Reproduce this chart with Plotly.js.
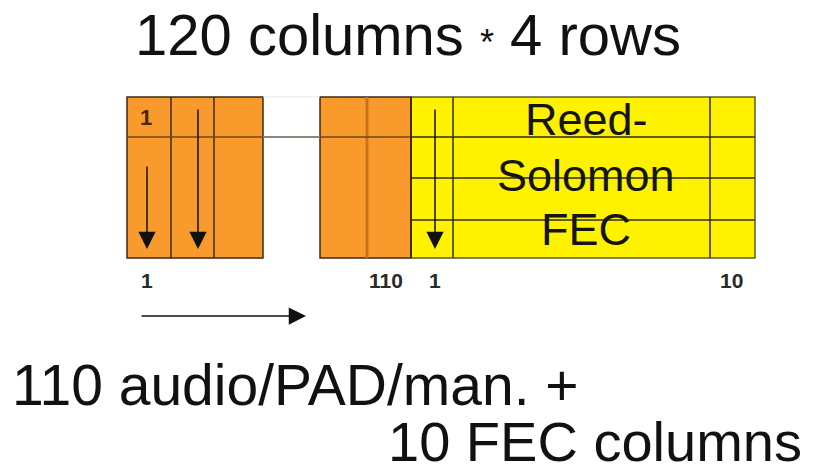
<!DOCTYPE html>
<html>
<head>
<meta charset="utf-8">
<script src="https://cdn.plot.ly/plotly-3.0.1.min.js"></script>
<style>html,body{margin:0;padding:0;background:#fff;}#chart{width:829px;height:473px;}</style>
</head>
<body>
<div id="chart"></div>
<script>
// ---- diagram data (frame of 120 columns x 4 rows) ----
const rowEdges = [97, 137, 178, 220, 258];            // 4 rows
const audioLeftEdges = [127, 171, 214, 263];          // columns 1..3
const gapEdges = [263, 320];                          // omitted columns
const audioRightEdges = [320, 367, 411];              // columns 109..110
const fecEdges = [411, 453, 710, 755];                // FEC columns 1 .. 10
const fecText = ['Reed-', 'Solomon', 'FEC'];
const fecTextY = [119, 175, 229];
const colLabels = ['1', '110', '1', '10'];
const colLabelX = [147, 386, 435, 731];
const downArrowX = [147, 198, 435];
const downArrowFrom = [165, 108, 108];
const titleText = '120 columns <span style="font-size:36px">*</span> 4 rows';
const footText = ['110 audio/PAD/man. +', '10 FEC columns'];

const ORANGE = '#F99B2C', YELLOW = '#FFF200', DARK = '#3b2a12';
const FONT = 'Liberation Sans, Arial, sans-serif';

const shapes = [];
const yTop = rowEdges[0], yBot = rowEdges[rowEdges.length - 1];
function rect(x0, x1, fill, lc, lw) {
  shapes.push({type: 'rect', xref: 'x', yref: 'y', x0, x1, y0: yTop, y1: yBot,
    fillcolor: fill, line: {color: lc, width: lw}, layer: 'below'});
}
function vline(x, color, w) {
  shapes.push({type: 'line', xref: 'x', yref: 'y', x0: x, x1: x, y0: yTop, y1: yBot, line: {color, width: w}});
}
function hline(x0, x1, y, color, w) {
  shapes.push({type: 'line', xref: 'x', yref: 'y', x0, x1, y0: y, y1: y, line: {color, width: w}});
}
// audio blocks
rect(audioLeftEdges[0], audioLeftEdges[audioLeftEdges.length - 1], ORANGE, DARK, 1.5);
rect(audioRightEdges[0], audioRightEdges[audioRightEdges.length - 1], ORANGE, DARK, 1.5);
audioLeftEdges.slice(1, -1).forEach(x => vline(x, DARK, 1.5));
audioRightEdges.slice(1, -1).forEach(x => vline(x, '#C8741C', 3));
hline(audioLeftEdges[0], audioRightEdges[audioRightEdges.length - 1], rowEdges[1], '#6b4a1a', 1.5);
// gap faint lines
hline(gapEdges[0], gapEdges[1], rowEdges[1], '#8a8a8a', 1.5);
hline(gapEdges[0], gapEdges[1], yTop, '#e2e6ea', 1);
// FEC block
rect(fecEdges[0], fecEdges[fecEdges.length - 1], YELLOW, '#5e5a2a', 1.5);
rowEdges.slice(1, -1).forEach(y => hline(fecEdges[0], fecEdges[fecEdges.length - 1], y, '#2e2e1a', 1.5));
fecEdges.slice(1, -1).forEach(x => vline(x, '#2e2e1a', 1.5));
vline(fecEdges[0], DARK, 2);

const ann = [];
// down arrows
downArrowX.forEach((x, i) => ann.push({x, y: 249, ax: x, ay: downArrowFrom[i], axref: 'x', ayref: 'y',
  xref: 'x', yref: 'y', text: '', showarrow: true, arrowhead: 2, arrowsize: 2.3, arrowwidth: 1.5, arrowcolor: '#111', standoff: 0}));
// horizontal arrow
ann.push({x: 306, y: 316, ax: 140, ay: 316, axref: 'x', ayref: 'y', xref: 'x', yref: 'y', text: '',
  showarrow: true, arrowhead: 2, arrowsize: 2.3, arrowwidth: 1.5, arrowcolor: '#111', standoff: 0});
// cell "1"
ann.push({x: 146, y: 117, xref: 'x', yref: 'y', text: '<b>1</b>', showarrow: false,
  font: {family: FONT, size: 22, color: '#4a2800'}});
// column labels
colLabels.forEach((t, i) => ann.push({x: colLabelX[i], y: 280, xref: 'x', yref: 'y', text: '<b>' + t + '</b>',
  showarrow: false, font: {family: FONT, size: 21, color: '#2a2a2a'}}));
// FEC text
fecText.forEach((t, i) => ann.push({x: 586, y: fecTextY[i], xref: 'x', yref: 'y', text: t, showarrow: false,
  font: {family: FONT, size: 45, color: '#151515'}}));
// title & footer
ann.push({x: 133, y: 34, xref: 'x', yref: 'y', xanchor: 'left', text: titleText, showarrow: false,
  font: {family: FONT, size: 58, color: '#111'}});
ann.push({x: 10, y: 385, xref: 'x', yref: 'y', xanchor: 'left', text: footText[0], showarrow: false,
  font: {family: FONT, size: 57, color: '#111'}});
ann.push({x: 386, y: 441, xref: 'x', yref: 'y', xanchor: 'left', text: footText[1], showarrow: false,
  font: {family: FONT, size: 56, color: '#111'}});

const layout = {
  width: 829, height: 473,
  margin: {l: 0, r: 0, t: 0, b: 0},
  paper_bgcolor: '#fff', plot_bgcolor: '#fff',
  xaxis: {range: [0, 829], visible: false, fixedrange: true},
  yaxis: {range: [473, 0], visible: false, fixedrange: true},
  shapes, annotations: ann, showlegend: false
};
Plotly.newPlot('chart', [{x: [], y: [], type: 'scatter'}], layout, {staticPlot: true});
</script>
</body>
</html>
